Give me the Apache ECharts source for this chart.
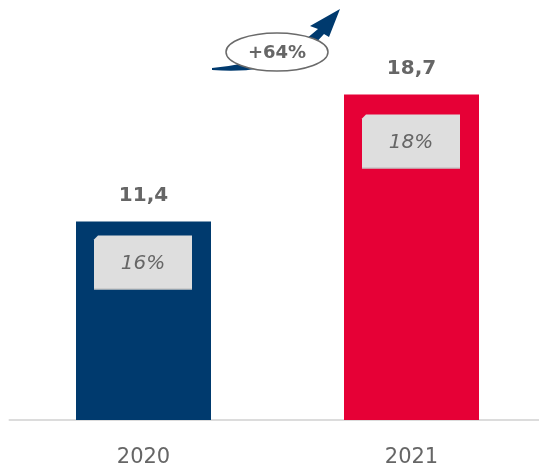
<!DOCTYPE html>
<html>
<head>
<meta charset="utf-8">
<script src="https://cdn.jsdelivr.net/npm/echarts@6/dist/echarts.min.js"></script>
<style>
  html, body { margin: 0; padding: 0; background: #fff; }
  #chart { width: 539px; height: 465px; }
</style>
</head>
<body>
<div id="chart"></div>
<script>
// data
const years = ['2020', '2021'];
const values = [11.4, 18.7];
const valueLabels = ['11,4', '18,7'];
const shares = ['16%', '18%'];
const growthLabel = '+64%';

const barColors = ['#003a6e', '#e60036'];
const textGray = '#666666';
const font = 'DejaVu Sans';

const chart = echarts.init(document.getElementById('chart'));

// grey box inside each bar, with a small cut top-left corner
const renderShareBox = (params, api) => {
    const top = api.coord([api.value(0), api.value(1)]);
    const gap = params.dataIndex === 0 ? 14 : 20;
    const w = 98, h = 54, cut = 4;
    const x0 = top[0] - 49.5;
    const y0 = top[1] + gap;
    return {
        type: 'group',
        children: [
            {
                type: 'polygon',
                shape: {
                    points: [
                        [x0 + cut, y0], [x0 + w, y0], [x0 + w, y0 + h],
                        [x0, y0 + h], [x0, y0 + cut]
                    ]
                },
                style: { fill: '#dedede' }
            },
            {
                type: 'rect',
                shape: { x: x0, y: y0 + h - 1, width: w, height: 1 },
                style: { fill: '#b9b9b9' }
            },
            {
                type: 'text',
                x: x0 + w / 2,
                y: y0 + h / 2 + 1,
                style: {
                    text: shares[params.dataIndex],
                    fill: textGray,
                    font: 'italic 20px "DejaVu Sans"',
                    align: 'center',
                    verticalAlign: 'middle'
                }
            }
        ]
    };
};

// growth arrow with the ellipse label
const renderGrowth = () => {
    const cx = 277, cy = 52, rx = 51, ry = 19;
    return {
        type: 'group',
        children: [
            {
                type: 'path',
                shape: {
                    pathData: 'M 212 68 Q 284 61 318 29 L 310 26 L 340 9 L 329 37 L 324 34 Q 290 76 212 70 Z'
                },
                style: { fill: '#003a6e' }
            },
            {
                type: 'path',
                shape: {
                    pathData: 'M ' + (cx - rx) + ' ' + cy +
                        ' A ' + rx + ' ' + ry + ' 0 1 0 ' + (cx + rx) + ' ' + cy +
                        ' A ' + rx + ' ' + ry + ' 0 1 0 ' + (cx - rx) + ' ' + cy + ' Z'
                },
                style: { fill: '#ffffff', stroke: '#6a6a6a', lineWidth: 1.5 }
            },
            {
                type: 'text',
                x: cx,
                y: cy + 1,
                style: {
                    text: growthLabel,
                    fill: textGray,
                    font: 'bold 18px "DejaVu Sans"',
                    align: 'center',
                    verticalAlign: 'middle'
                }
            }
        ]
    };
};

chart.setOption({
    backgroundColor: '#ffffff',
    animation: false,
    grid: { left: 9.5, width: 536, top: 37, bottom: 45, outerBoundsMode: 'none' },
    xAxis: {
        type: 'category',
        data: years,
        axisLine: { lineStyle: { color: '#dcdcdc', width: 2 } },
        axisTick: { show: false },
        axisLabel: {
            color: textGray,
            fontFamily: font,
            fontSize: 21,
            margin: 27
        }
    },
    yAxis: {
        type: 'value',
        min: 0,
        max: 22,
        show: false,
        splitLine: { show: false }
    },
    series: [
        {
            type: 'bar',
            barWidth: 135,
            data: values.map((v, i) => ({
                value: v,
                itemStyle: { color: barColors[i] }
            })),
            label: {
                show: true,
                position: 'top',
                distance: 16,
                formatter: (p) => valueLabels[p.dataIndex],
                color: textGray,
                fontFamily: font,
                fontWeight: 'bold',
                fontSize: 20
            }
        },
        {
            type: 'custom',
            renderItem: renderShareBox,
            data: values.map((v, i) => [i, v]),
            z: 5
        },
        {
            type: 'custom',
            renderItem: renderGrowth,
            data: [[0, 0]],
            clip: false,
            silent: true,
            z: 10
        }
    ]
});
</script>
</body>
</html>
